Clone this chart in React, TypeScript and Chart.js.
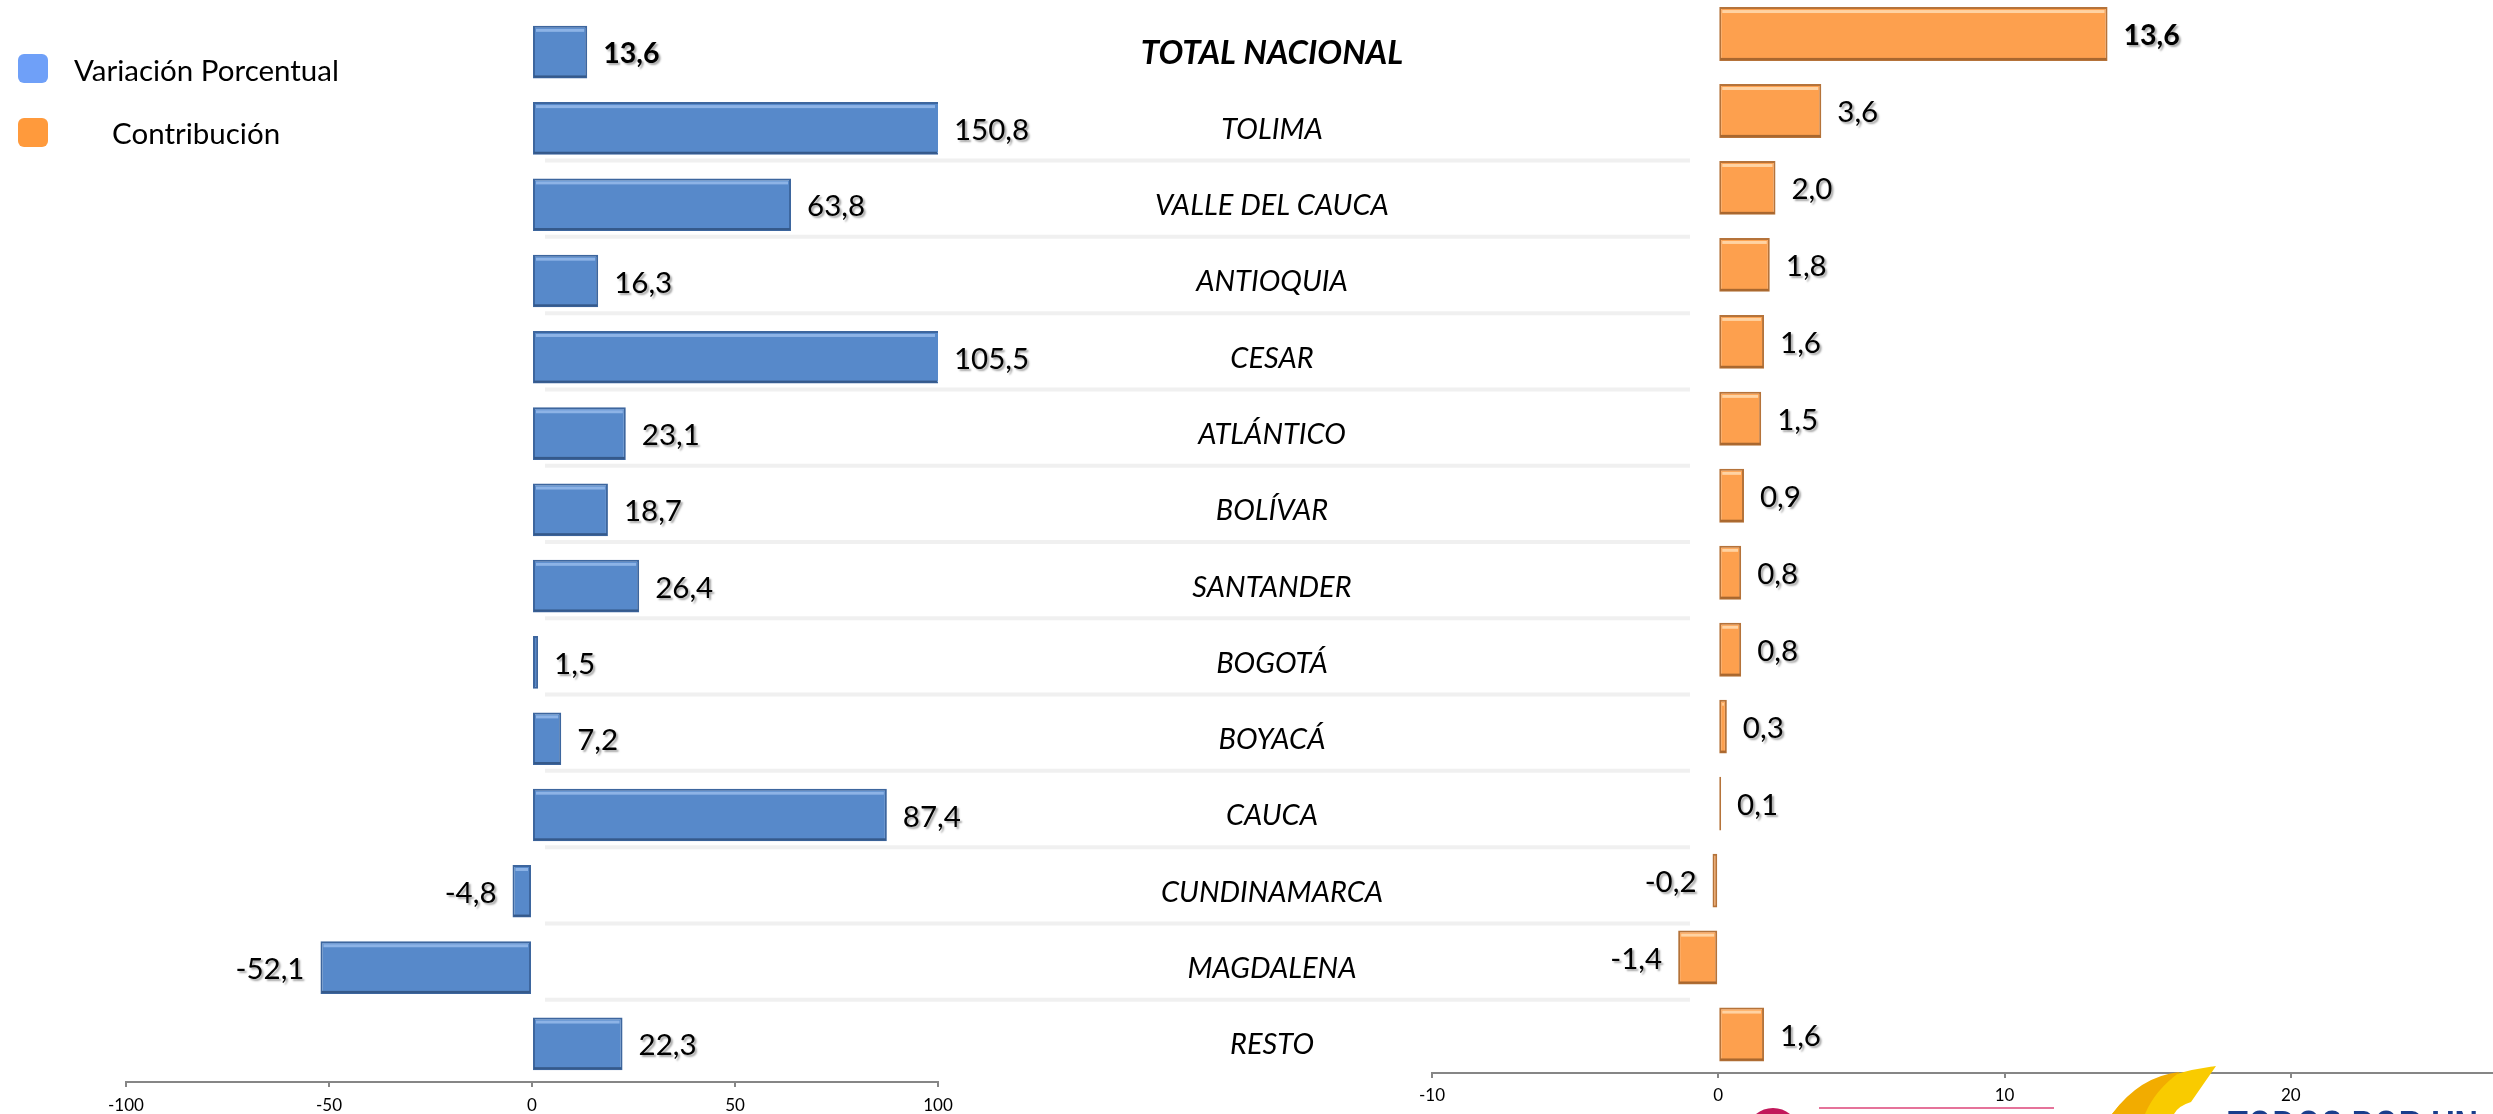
import React, { useEffect, useRef } from "react";
import { Chart, registerables } from "chart.js";

Chart.register(...registerables);

const categories = [
  "TOTAL NACIONAL",
  "TOLIMA",
  "VALLE DEL CAUCA",
  "ANTIOQUIA",
  "CESAR",
  "ATLÁNTICO",
  "BOLÍVAR",
  "SANTANDER",
  "BOGOTÁ",
  "BOYACÁ",
  "CAUCA",
  "CUNDINAMARCA",
  "MAGDALENA",
  "RESTO",
];
const variacionPorcentual = [13.6, 150.8, 63.8, 16.3, 105.5, 23.1, 18.7, 26.4, 1.5, 7.2, 87.4, -4.8, -52.1, 22.3];
const contribucion = [13.6, 3.6, 2.0, 1.8, 1.6, 1.5, 0.9, 0.8, 0.8, 0.3, 0.1, -0.2, -1.4, 1.6];
const variacionTicks = [-100, -50, 0, 50, 100];
const contribucionTicks = [-10, 0, 10, 20, 30];
const seriesNames = ["Variación Porcentual", "Contribución"];

const FONT = "Lato, 'Open Sans', sans-serif";
const fmt = (v: number) => v.toFixed(1).replace(".", ",");

const separatorPlugin = {
  id: "separators",
  beforeDatasetsDraw(chart: any, _args: any, opts: any) {
    if (!opts || !opts.enabled) return;
    const { ctx } = chart;
    const ys = chart.scales.y;
    ctx.save();
    ctx.strokeStyle = "#F0F0F0";
    ctx.lineWidth = 4;
    for (let i = 2; i < categories.length; i++) {
      const y = (ys.getPixelForValue(i - 1) + ys.getPixelForValue(i)) / 2 - 6;
      ctx.beginPath();
      ctx.moveTo(opts.x1, y);
      ctx.lineTo(opts.x2, y);
      ctx.stroke();
    }
    ctx.restore();
  },
};

const barDecorPlugin = {
  id: "barDecor",
  afterDatasetsDraw(chart: any, _args: any, opts: any) {
    const { ctx, chartArea } = chart;
    const meta = chart.getDatasetMeta(0);
    const values = chart.data.datasets[0].data as number[];
    ctx.save();
    meta.data.forEach((bar: any, i: number) => {
      const p = bar.getProps(["x", "y", "base", "height"], true);
      let l = Math.min(p.x, p.base);
      let r = Math.max(p.x, p.base);
      l = Math.max(l, chartArea.left);
      r = Math.min(r, chartArea.right);
      const top = p.y - p.height / 2;
      const bottom = p.y + p.height / 2;
      if (r - l > 6) {
        ctx.fillStyle = opts.highlight;
        ctx.fillRect(l + 3, top + 3, r - l - 6, 3);
        ctx.fillStyle = opts.shade;
        ctx.fillRect(l + 1, bottom - 3, r - l - 2, 2);
      }
      const v = values[i];
      const end = Math.max(chartArea.left, Math.min(chartArea.right, p.x));
      ctx.save();
      ctx.font = i === 0 ? `bold ${opts.boldSize}px ${FONT}` : `${opts.size}px ${FONT}`;
      ctx.fillStyle = "#000";
      ctx.textBaseline = "middle";
      ctx.shadowColor = "rgba(0,0,0,0.35)";
      ctx.shadowOffsetX = 2;
      ctx.shadowOffsetY = 2;
      ctx.shadowBlur = 2;
      if (v >= 0) {
        ctx.textAlign = "left";
        ctx.fillText(fmt(v), end + opts.gap, p.y + 2);
      } else {
        ctx.textAlign = "right";
        ctx.fillText(fmt(v), end - opts.gap, p.y + 2);
      }
      ctx.restore();
    });
    ctx.restore();
  },
};

const categoryLabelPlugin = {
  id: "categoryLabels",
  afterDatasetsDraw(chart: any, _args: any, opts: any) {
    if (!opts || !opts.enabled) return;
    const { ctx } = chart;
    const ys = chart.scales.y;
    ctx.save();
    ctx.fillStyle = "#000";
    ctx.textAlign = "center";
    ctx.textBaseline = "middle";
    categories.forEach((c, i) => {
      ctx.font = i === 0 ? `italic bold ${opts.boldSize}px ${FONT}` : `italic ${opts.size}px ${FONT}`;
      ctx.fillText(c, opts.x, ys.getPixelForValue(i) + 1);
    });
    ctx.restore();
  },
};

function makeChart(
  canvas: HTMLCanvasElement,
  values: number[],
  ticks: number[],
  min: number,
  max: number,
  color: string,
  border: string,
  padding: any,
  axisHeight: number,
  tickPad: number,
  barPct: number,
  name: string,
  extra: any
) {
  return new Chart(canvas, {
    type: "bar",
    data: {
      labels: categories,
      datasets: [
        {
          label: name,
          data: values,
          backgroundColor: color,
          borderColor: border,
          borderWidth: 2,
          borderSkipped: false,
          barPercentage: barPct,
          categoryPercentage: 1,
          clip: 0,
        } as any,
      ],
    },
    options: {
      indexAxis: "y",
      responsive: false,
      animation: false,
      devicePixelRatio: 1,
      layout: { padding },
      scales: {
        x: {
          type: "linear",
          min,
          max,
          afterBuildTicks: (s: any) => {
            s.ticks = ticks.map((v) => ({ value: v }));
          },
          afterFit: (s: any) => {
            s.height = axisHeight;
          },
          grid: {
            drawOnChartArea: false,
            drawTicks: true,
            tickLength: 5,
            color: "#868686",
            lineWidth: 2,
          },
          border: { display: true, color: "#868686", width: 2 },
          ticks: {
            padding: tickPad,
            color: "#000",
            font: { family: FONT, size: 17 },
            maxRotation: 0,
            autoSkip: false,
          },
        },
        y: { display: false },
      },
      plugins: {
        legend: { display: false },
        tooltip: { enabled: false },
        ...extra,
      } as any,
    },
    plugins: [separatorPlugin, barDecorPlugin, categoryLabelPlugin],
  });
}

export default function App() {
  const leftRef = useRef<HTMLCanvasElement>(null);
  const rightRef = useRef<HTMLCanvasElement>(null);

  useEffect(() => {
    const left = makeChart(
      leftRef.current!,
      variacionPorcentual,
      variacionTicks,
      -100,
      100,
      "#5789CA",
      "#3D669E",
      { left: 126, right: 762, top: 14, bottom: 0 },
      32,
      8,
      0.69,
      seriesNames[0],
      {
        barDecor: { highlight: "#8DB3E6", shade: "#35598A", size: 29.5, boldSize: 28.5, gap: 16 },
        separators: { enabled: true, x1: 545, x2: 1690 },
        categoryLabels: { enabled: true, x: 1272, size: 29, boldSize: 33 },
      }
    );
    const right = makeChart(
      rightRef.current!,
      contribucion,
      contribucionTicks,
      -10,
      30,
      "#FDA04E",
      "#B5733A",
      { left: 52, right: 20, top: 1.5, bottom: 0 },
      41,
      7,
      0.7,
      seriesNames[1],
      {
        barDecor: { highlight: "#FFD3A3", shade: "#A8672F", size: 29.5, boldSize: 28.5, gap: 16 },
        separators: { enabled: false },
        categoryLabels: { enabled: false },
      }
    );
    return () => {
      left.destroy();
      right.destroy();
    };
  }, []);

  const legendText: React.CSSProperties = {
    position: "absolute",
    fontFamily: FONT,
    fontSize: 29.5,
    lineHeight: "34px",
    color: "#000",
    whiteSpace: "nowrap",
  };

  return (
    <div
      style={{
        position: "fixed",
        left: 0,
        top: 0,
        width: 2493,
        height: 1114,
        overflow: "hidden",
        background: "#fff",
      }}
    >
      <canvas ref={leftRef} width={1700} height={1114} style={{ position: "absolute", left: 0, top: 0 }} />
      <canvas ref={rightRef} width={1217} height={1120} style={{ position: "absolute", left: 1380, top: -6 }} />

      <div style={{ position: "absolute", left: 18, top: 54, width: 30, height: 29, borderRadius: 6, background: "#6FA0F8" }} />
      <div style={{ ...legendText, left: 74, top: 53 }}>{seriesNames[0]}</div>
      <div style={{ position: "absolute", left: 18, top: 118, width: 30, height: 29, borderRadius: 6, background: "#FF9A3C" }} />
      <div style={{ ...legendText, left: 112, top: 116 }}>{seriesNames[1]}</div>

      <svg
        width={793}
        height={74}
        style={{ position: "absolute", left: 1700, top: 1040 }}
        viewBox="0 0 793 74"
      >
        <line x1={119} y1={68} x2={354} y2={68} stroke="#E5739A" strokeWidth={2} />
        <circle cx={73} cy={95} r={24} fill="#fff" stroke="#C2185B" strokeWidth={6} />
        <path d="M 412 74 Q 440 36 516 26 L 491 62 Q 478 66 474 74 Z" fill="#F9CB00" />
        <path d="M 412 74 Q 440 36 480 32 Q 455 50 445 74 Z" fill="#F2AC00" />
        <text
          x={528}
          y={104}
          fontFamily="'Liberation Sans', Arial, sans-serif"
          fontWeight="bold"
          fontSize={48}
          fill="#1A3E8C"
          textLength={250}
          lengthAdjust="spacingAndGlyphs"
        >
          TODOS POR UN
        </text>
      </svg>
    </div>
  );
}
